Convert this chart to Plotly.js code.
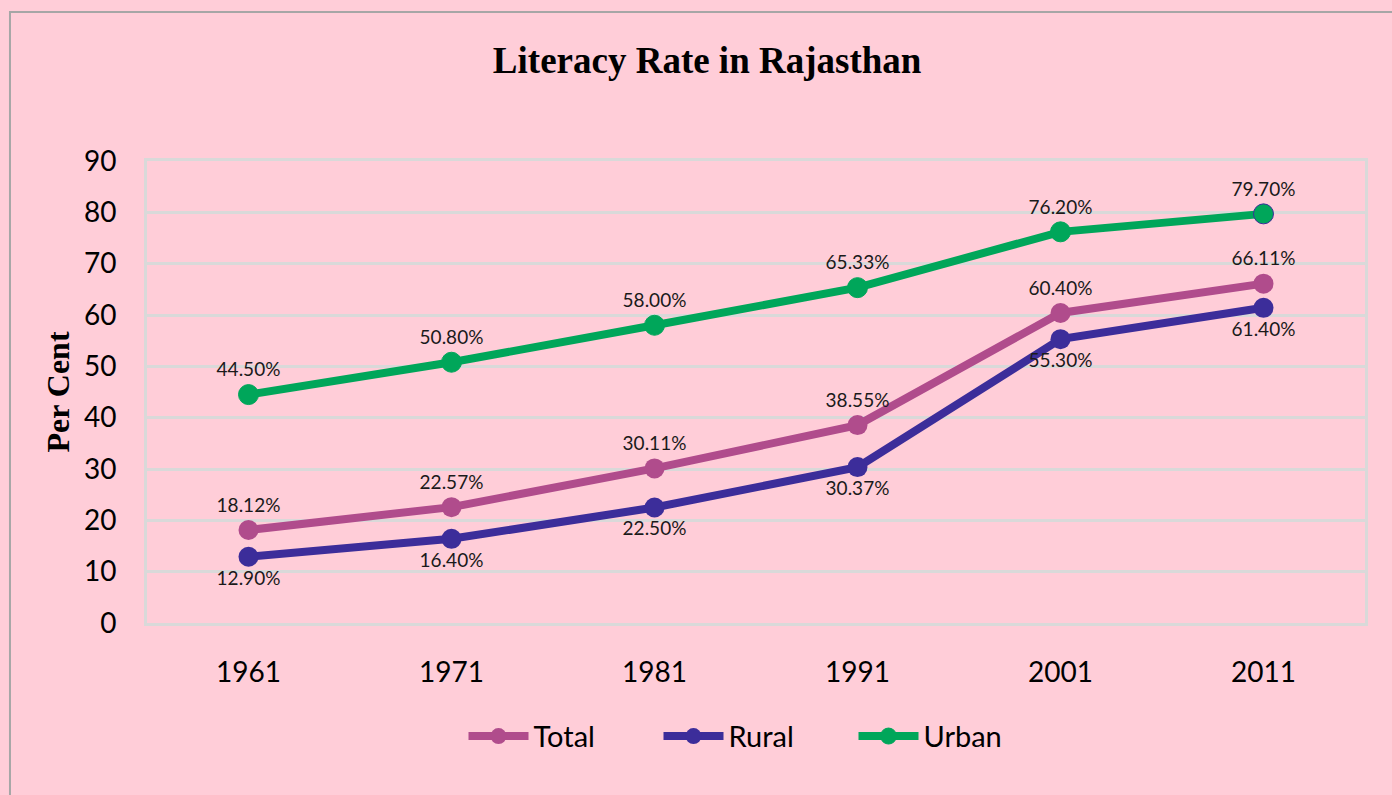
<!DOCTYPE html>
<html>
<head>
<meta charset="utf-8">
<script src="https://cdn.plot.ly/plotly-3.0.1.min.js"></script>
<style>html,body{margin:0;padding:0;background:#fff;}#chart{width:1392px;height:795px;}</style>
</head>
<body>
<div id="chart"></div>
<script>
const years = ['1961', '1971', '1981', '1991', '2001', '2011'];
const total = [18.12, 22.57, 30.11, 38.55, 60.40, 66.11];
const rural = [12.90, 16.40, 22.50, 30.37, 55.30, 61.40];
const urban = [44.50, 50.80, 58.00, 65.33, 76.20, 79.70];
const seriesNames = ['Total', 'Rural', 'Urban'];

const colors = {Total: '#B04C8C', Rural: '#3C2D9A', Urban: '#00A65A'};
const labelFont = {family: 'Lato, "Open Sans", sans-serif', size: 19, color: '#1a1a1a'};

function series(name, vals, pos) {
  return {
    type: 'scatter', mode: 'lines+markers+text', name: name,
    x: years, y: vals,
    text: vals.map(v => v.toFixed(2) + '%'),
    textposition: pos, textfont: labelFont,
    cliponaxis: false,
    line: {color: colors[name], width: 8},
    marker: {color: colors[name], size: 20},
    hoverinfo: 'x+y+name'
  };
}

const tUrban = series('Urban', urban, 'top center');
tUrban.marker.line = {color: urban.map((v, i) => i === urban.length - 1 ? '#3C2D9A' : colors.Urban), width: 1};

const data = [
  series('Total', total, 'top center'),
  series('Rural', rural, 'bottom center'),
  tUrban
];

const layout = {
  width: 1392, height: 795,
  paper_bgcolor: '#FFCDD8', plot_bgcolor: '#FFCDD8',
  margin: {l: 147, r: 27, t: 161, b: 172},
  title: {
    text: '<b>Literacy Rate in Rajasthan</b>',
    font: {family: '"Liberation Serif", "Times New Roman", serif', size: 37, color: '#000'},
    x: 0.508, xanchor: 'center', y: 0.925, yanchor: 'middle'
  },
  xaxis: {
    type: 'category', range: [-0.5, 5.5],
    showgrid: false, zeroline: false,
    showline: true, mirror: true, linecolor: '#D9D9D9', linewidth: 3,
    ticks: '', ticklabelstandoff: 22,
    tickfont: {family: 'Lato, "Open Sans", sans-serif', size: 28, color: '#000'}
  },
  yaxis: {
    range: [0, 90], dtick: 10, tick0: 0,
    showgrid: true, gridcolor: '#D9D9D9', gridwidth: 3,
    zeroline: false,
    showline: true, mirror: true, linecolor: '#D9D9D9', linewidth: 3,
    ticks: '', ticklabelstandoff: 22,
    tickfont: {family: 'Lato, "Open Sans", sans-serif', size: 28, color: '#000'},
    title: {
      text: '<b>Per Cent</b>', standoff: 5,
      font: {family: '"Liberation Serif", "Times New Roman", serif', size: 32, color: '#000'}
    }
  },
  showlegend: true,
  legend: {
    orientation: 'h', x: 0.5, xanchor: 'center', y: -0.245, yanchor: 'middle',
    font: {family: 'Lato, "Open Sans", sans-serif', size: 29, color: '#000'},
    bgcolor: 'rgba(0,0,0,0)', itemwidth: 60, traceorder: 'normal',
    entrywidth: 120, entrywidthmode: 'pixels'
  },
  shapes: [{
    type: 'rect', xref: 'paper', yref: 'paper',
    x0: -0.1125, x1: 1.2, y0: -0.6, y1: 1.3225,
    line: {color: '#A6A6A6', width: 2}, fillcolor: 'rgba(0,0,0,0)', layer: 'below'
  }]
};

Plotly.newPlot('chart', data, layout, {displayModeBar: false, staticPlot: true});
</script>
</body>
</html>
